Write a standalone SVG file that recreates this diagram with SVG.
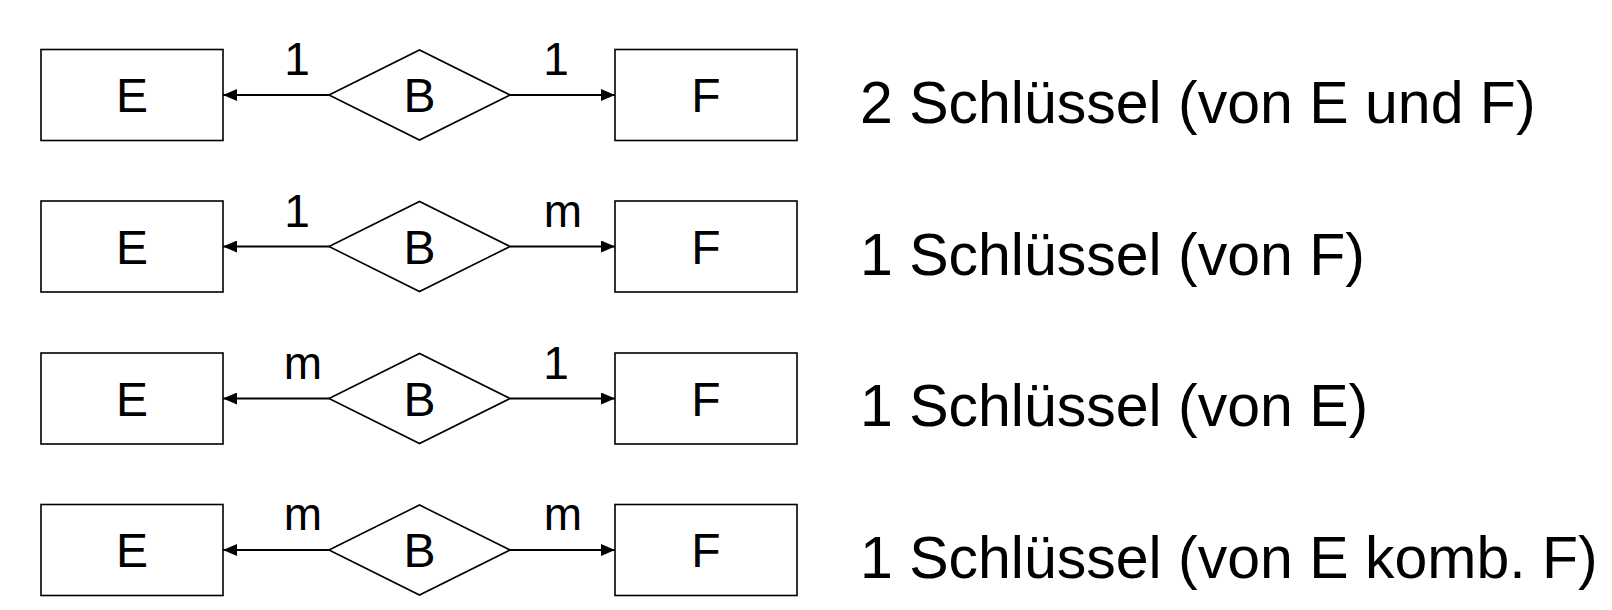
<svg xmlns="http://www.w3.org/2000/svg" width="1612" height="610" viewBox="0 0 1612 610">
<defs>
<style>
.box{fill:#fff;stroke:#000;stroke-width:1.6}
.conn{stroke:#000;stroke-width:2;fill:none}
.lbl{font-family:"Liberation Sans",Arial,sans-serif;font-size:48px;fill:#000;text-anchor:middle}
.card{font-family:"Liberation Sans",Arial,sans-serif;font-size:46px;fill:#000;text-anchor:middle}
.desc{font-family:"Liberation Sans",Arial,sans-serif;font-size:59px;fill:#000}
</style>
<marker id="arr" viewBox="0 0 14 12" refX="14" refY="6" markerWidth="14" markerHeight="12" markerUnits="userSpaceOnUse" orient="auto">
<path d="M0,0 L14,6 L0,12 Z" fill="#000"/>
</marker>
</defs>
<rect width="1612" height="610" fill="#fff"/>

<g id="connectors">
<line class="conn" x1="329" y1="95" x2="223" y2="95" marker-end="url(#arr)"/>
<line class="conn" x1="510" y1="95" x2="615" y2="95" marker-end="url(#arr)"/>
<line class="conn" x1="329" y1="246.5" x2="223" y2="246.5" marker-end="url(#arr)"/>
<line class="conn" x1="510" y1="246.5" x2="615" y2="246.5" marker-end="url(#arr)"/>
<line class="conn" x1="329" y1="398.5" x2="223" y2="398.5" marker-end="url(#arr)"/>
<line class="conn" x1="510" y1="398.5" x2="615" y2="398.5" marker-end="url(#arr)"/>
<line class="conn" x1="329" y1="550" x2="223" y2="550" marker-end="url(#arr)"/>
<line class="conn" x1="510" y1="550" x2="615" y2="550" marker-end="url(#arr)"/>
<text class="card" x="297" y="75">1</text>
<text class="card" x="556" y="75">1</text>
<text class="card" x="297" y="226.5">1</text>
<text class="card" x="563" y="226.5">m</text>
<text class="card" x="303" y="378.5">m</text>
<text class="card" x="556" y="378.5">1</text>
<text class="card" x="303" y="530">m</text>
<text class="card" x="563" y="530">m</text>
</g>

<g id="row1">
<g id="E1"><rect class="box" x="41" y="49.5" width="182" height="91"/><text class="lbl" x="132" y="112">E</text></g>
<g id="B1"><polygon class="box" points="329,95 419.5,50 510,95 419.5,140"/><text class="lbl" x="419.5" y="112">B</text></g>
<g id="F1"><rect class="box" x="615" y="49.5" width="182" height="91"/><text class="lbl" x="706" y="112">F</text></g>
<text class="desc" x="860" y="123">2 Schlüssel (von E und F)</text>
</g>

<g id="row2">
<g id="E2"><rect class="box" x="41" y="201" width="182" height="91"/><text class="lbl" x="132" y="263.5">E</text></g>
<g id="B2"><polygon class="box" points="329,246.5 419.5,201.5 510,246.5 419.5,291.5"/><text class="lbl" x="419.5" y="263.5">B</text></g>
<g id="F2"><rect class="box" x="615" y="201" width="182" height="91"/><text class="lbl" x="706" y="263.5">F</text></g>
<text class="desc" x="860" y="274.5">1 Schlüssel (von F)</text>
</g>

<g id="row3">
<g id="E3"><rect class="box" x="41" y="353" width="182" height="91"/><text class="lbl" x="132" y="415.5">E</text></g>
<g id="B3"><polygon class="box" points="329,398.5 419.5,353.5 510,398.5 419.5,443.5"/><text class="lbl" x="419.5" y="415.5">B</text></g>
<g id="F3"><rect class="box" x="615" y="353" width="182" height="91"/><text class="lbl" x="706" y="415.5">F</text></g>
<text class="desc" x="860" y="426">1 Schlüssel (von E)</text>
</g>

<g id="row4">
<g id="E4"><rect class="box" x="41" y="504.5" width="182" height="91"/><text class="lbl" x="132" y="567">E</text></g>
<g id="B4"><polygon class="box" points="329,550 419.5,505 510,550 419.5,595"/><text class="lbl" x="419.5" y="567">B</text></g>
<g id="F4"><rect class="box" x="615" y="504.5" width="182" height="91"/><text class="lbl" x="706" y="567">F</text></g>
<text class="desc" x="860" y="577.5">1 Schlüssel (von E komb. F)</text>
</g>
</svg>
